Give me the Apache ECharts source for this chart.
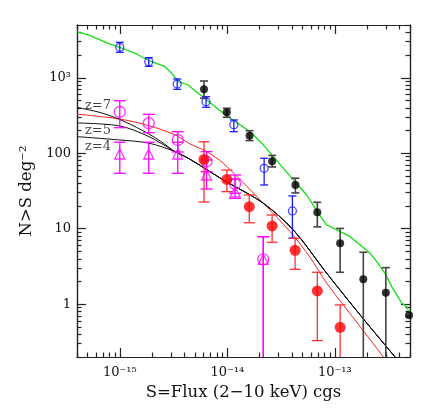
<!DOCTYPE html>
<html>
<head>
<meta charset="utf-8">
<script src="https://cdn.jsdelivr.net/npm/echarts@6/dist/echarts.min.js"></script>
<style>
  html, body { margin: 0; padding: 0; background: #fff; }
  #chart { width: 436px; height: 410px; }
</style>
</head>
<body>
<div id="chart"></div>
<script>
// axis ranges and ticks
var xMin = 4e-16, xMax = 5e-13
var yMin = 0.2, yMax = 5000
var xMajor = [1e-15, 1e-14, 1e-13]
var xMinor = [4e-16, 5e-16, 6e-16, 7e-16, 8e-16, 9e-16,
  2e-15, 3e-15, 4e-15, 5e-15, 6e-15, 7e-15, 8e-15, 9e-15,
  2e-14, 3e-14, 4e-14, 5e-14, 6e-14, 7e-14, 8e-14, 9e-14,
  2e-13, 3e-13, 4e-13, 5e-13]
var yMajor = [1, 10, 100, 1000]
var yMinor = [0.2, 0.3, 0.4, 0.5, 0.6, 0.7, 0.8, 0.9,
  2, 3, 4, 5, 6, 7, 8, 9, 20, 30, 40, 50, 60, 70, 80, 90,
  200, 300, 400, 500, 600, 700, 800, 900, 2000, 3000, 4000, 5000]

// green survey curve
var greenFlux = [4.0e-16, 5.1e-16, 7.8e-16, 1.0e-15, 1.39e-15, 1.87e-15, 2.64e-15, 3.04e-15, 3.5e-15, 4.34e-15, 5.0e-15,
  6.44e-15, 8.24e-15, 1.02e-14, 1.26e-14, 1.69e-14, 2.09e-14, 2.68e-14, 4.11e-14, 5.48e-14, 7.03e-14, 8.41e-14,
  1.04e-13, 1.39e-13, 1.72e-13, 2.13e-13, 2.45e-13, 2.93e-13, 3.38e-13, 3.77e-13, 4.2e-13, 4.67e-13, 5.0e-13]
var greenN = [4040, 3690, 2860, 2535, 2110, 1683, 1402, 1146, 887, 802, 675,
  508, 382, 305, 250, 184, 136, 90.2, 44.3, 28.0, 16.0, 11.2,
  9.64, 7.86, 6.10, 4.73, 3.66, 2.57, 1.71, 1.33, 1.03, 0.93, 0.72]

// blue open circles
var blueFlux = [1.0e-15, 1.86e-15, 3.42e-15, 6.34e-15, 1.15e-14, 2.2e-14, 4.03e-14]
var blueN = [2533, 1633, 827, 482, 239, 63.2, 17.2]
var blueLo = [2175, 1419, 703, 406, 193, 38.0, 7.48]
var blueHi = [2951, 1845, 964, 561, 276, 85.8, 27.2]

// black filled circles
var blackFlux = [6.07e-15, 9.9e-15, 1.61e-14, 2.61e-14, 4.3e-14, 6.87e-14, 1.12e-13, 1.84e-13, 2.98e-13, 4.9e-13]
var blackN = [703, 349, 171, 78.3, 38.0, 16.5, 6.43, 2.14, 1.42, 0.714]
var blackLo = [535, 300, 147, 65.8, 29.8, 10.6, 2.65, 0.1, 0.1, null]
var blackHi = [906, 394, 199, 93.5, 46.7, 22.4, 10.1, 4.88, 3.05, null]

// red filled circles
var redFlux = [6.07e-15, 9.9e-15, 1.6e-14, 2.61e-14, 4.27e-14, 6.87e-14, 1.12e-13]
var redN = [82.7, 45.0, 19.6, 10.9, 5.19, 1.50, 0.495]
var redLo = [22.6, 31.0, 12.0, 6.62, 2.90, 0.33, 0.1]
var redHi = [142, 60.0, 28.0, 15.2, 7.48, 2.65, 0.98]

// magenta open circles and triangles
var magCircFlux = [1.0e-15, 1.86e-15, 3.46e-15, 6.41e-15, 1.18e-14, 2.16e-14]
var magCircN = [352, 250, 150, 77.8, 39.2, 3.94]
var magCircLo = [218, 187, 104, 57, 29.5, 0.1]
var magCircHi = [497, 328, 193, 105, 51.5, 7.85]
var magTriFlux = [1.0e-15, 1.86e-15, 3.46e-15, 6.41e-15, 1.18e-14, 2.16e-14]
var magTriN = [97.8, 97.8, 97.8, 51.5, 30.7, 3.94]
var magTriLo = [54.3, 54.3, 54.3, 33.6, 25.3, 0.1]
var magTriHi = [140, 140, 140, 81.5, 45.2, 7.85]

// red model curve
var redCurveFlux = [4.0e-16, 1.0e-15, 1.87e-15, 3.27e-15, 4.5e-15, 6.44e-15, 9.18e-15, 2.15e-14, 3.83e-14, 5.87e-14, 8.41e-14, 1.72e-13, 2.83e-13, 3.1e-13]
var redCurveN = [330, 284, 232, 175, 133, 105, 73.6, 21.9, 9.15, 4.2, 1.90, 0.505, 0.20, 0.17]

// black model curves z=7,5,4 (shared bright end)
var z7Flux = [4.0e-16, 6.55e-16, 1.0e-15, 1.6e-15, 2.37e-15]
var z7N = [405, 347, 280, 203, 146]
var z5Flux = [4.0e-16, 1.0e-15, 1.87e-15]
var z5N = [252, 230, 166]
var z4Flux = [4.0e-16, 1.0e-15, 1.87e-15]
var z4N = [166, 150, 136]
var tailFlux = [3.27e-15, 4.5e-15, 9.18e-15, 2.15e-14, 4.11e-14, 8.41e-14, 1.72e-13, 3.63e-13, 4.0e-13]
var tailN = [105, 83.2, 44.3, 21.9, 9.64, 2.57, 0.72, 0.20, 0.17]

var zLabelFlux = [4.75e-16, 4.75e-16, 4.75e-16]
var zLabelN = [427, 199, 122]
var zLabelText = ['z=7', 'z=5', 'z=4']

var FONT = 'DejaVu Serif'
var SUP = { '-': '\u207b', '0': '\u2070', '1': '\u00b9', '2': '\u00b2', '3': '\u00b3', '4': '\u2074', '5': '\u2075', '6': '\u2076', '7': '\u2077', '8': '\u2078', '9': '\u2079' }

function sup (s) {
  return String(s).split('').map(function (c) { return SUP[c] || c }).join('')
}

function pairs (xs, ys) {
  return xs.map(function (x, i) { return [x, ys[i]] })
}

function errData (xs, ys, lo, hi) {
  var out = []
  xs.forEach(function (x, i) {
    if (lo[i] != null) out.push([x, ys[i], lo[i], hi[i]])
  })
  return out
}

function errorBars (data, color, width, capHalf) {
  return {
    type: 'custom',
    data: data,
    encode: { x: 0, y: 1 },
    z: 3,
    silent: true,
    renderItem: function (params, api) {
      var cs = params.coordSys
      var x = api.value(0)
      var top = api.coord([x, api.value(3)])
      var bot = api.coord([x, api.value(2)])
      var y1 = Math.max(top[1], cs.y)
      var y2 = Math.min(bot[1], cs.y + cs.height)
      var st = { stroke: color, lineWidth: width }
      var kids = [{ type: 'line', shape: { x1: top[0], y1: y1, x2: top[0], y2: y2 }, style: st }]
      if (top[1] >= cs.y) kids.push({ type: 'line', shape: { x1: top[0] - capHalf, y1: top[1], x2: top[0] + capHalf, y2: top[1] }, style: st })
      if (bot[1] <= cs.y + cs.height) kids.push({ type: 'line', shape: { x1: bot[0] - capHalf, y1: bot[1], x2: bot[0] + capHalf, y2: bot[1] }, style: st })
      return { type: 'group', children: kids }
    }
  }
}

function line (data, color, width, smooth) {
  return {
    type: 'line', data: data, symbol: 'none', smooth: smooth, z: 2, clip: true,
    lineStyle: { color: color, width: width }
  }
}

function marks (data, symbol, size, color, filled) {
  return {
    type: 'scatter', data: data, symbol: symbol, symbolSize: size, z: 4,
    itemStyle: filled
      ? { color: color, borderColor: color, borderWidth: 0 }
      : { color: 'rgba(0,0,0,0)', borderColor: color, borderWidth: 1.3 }
  }
}

var axisColor = '#222'

function xAxis (pos, ticks, len, labels) {
  return {
    type: 'log', logBase: 10, position: pos, min: xMin, max: xMax,
    axisLine: { show: true, onZero: false, lineStyle: { color: axisColor, width: 1.2 } },
    axisTick: { show: true, inside: true, length: len, customValues: ticks, lineStyle: { color: axisColor, width: 1.2 } },
    axisLabel: labels ? {
      show: true, customValues: ticks, margin: 9, color: '#111', fontFamily: FONT, fontSize: 13,
      formatter: function (v) { return '10' + sup(Math.round(Math.log10(v))) }
    } : { show: false },
    splitLine: { show: false },
    name: labels ? 'S=Flux (2\u221210 keV) cgs' : '',
    nameLocation: 'middle', nameGap: 27,
    nameTextStyle: { color: '#111', fontFamily: FONT, fontSize: 16.5 }
  }
}

function yAxis (pos, ticks, len, labels) {
  return {
    type: 'log', logBase: 10, position: pos, min: yMin, max: yMax,
    axisLine: { show: true, onZero: false, lineStyle: { color: axisColor, width: 1.2 } },
    axisTick: { show: true, inside: true, length: len, customValues: ticks, lineStyle: { color: axisColor, width: 1.2 } },
    axisLabel: labels ? {
      show: true, customValues: ticks, margin: 6, color: '#111', fontFamily: FONT, fontSize: 13,
      formatter: function (v) { return v >= 1000 ? '10' + sup(Math.round(Math.log10(v))) : String(v) }
    } : { show: false },
    splitLine: { show: false },
    name: labels ? 'N>S deg' + sup(-2) : '',
    nameLocation: 'middle', nameGap: 41, nameRotate: 90,
    nameTextStyle: { color: '#111', fontFamily: FONT, fontSize: 16.5 }
  }
}

var zLabels = zLabelFlux.map(function (x, i) { return [x, zLabelN[i], zLabelText[i]] })

var option = {
  animation: false,
  backgroundColor: '#fff',
  grid: { left: 77, right: 26, top: 25, bottom: 53, containLabel: false, outerBoundsMode: 'none' },
  xAxis: [
    xAxis('bottom', xMajor, 9, true),
    xAxis('bottom', xMinor, 4.5, false),
    xAxis('top', xMajor, 9, false),
    xAxis('top', xMinor, 4.5, false)
  ],
  yAxis: [
    yAxis('left', yMajor, 9, true),
    yAxis('left', yMinor, 4.5, false),
    yAxis('right', yMajor, 9, false),
    yAxis('right', yMinor, 4.5, false)
  ],
  series: [
    line(pairs(greenFlux, greenN), '#11e011', 1.3, false),
    line(pairs(redCurveFlux, redCurveN), '#ff2020', 1, 0.3),
    line(pairs(z7Flux.concat(tailFlux), z7N.concat(tailN)), '#111', 1, 0.3),
    line(pairs(z5Flux.concat(tailFlux), z5N.concat(tailN)), '#111', 1, 0.3),
    line(pairs(z4Flux.concat(tailFlux), z4N.concat(tailN)), '#111', 1, 0.3),
    errorBars(errData(magTriFlux, magTriN, magTriLo, magTriHi), '#ff00ff', 1.3, 6),
    errorBars(errData(magCircFlux, magCircN, magCircLo, magCircHi), '#ff00ff', 1.3, 6),
    errorBars(errData(blueFlux, blueN, blueLo, blueHi), '#1a1aff', 1.3, 4),
    errorBars(errData(blackFlux, blackN, blackLo, blackHi), '#444', 1.6, 4),
    errorBars(errData(redFlux, redN, redLo, redHi), '#ff3030', 1.3, 5.5),
    marks(pairs(magTriFlux, magTriN), 'triangle', 10, '#ff00ff', false),
    marks(pairs(magCircFlux, magCircN), 'circle', 11, '#ff00ff', false),
    marks(pairs(blueFlux, blueN), 'circle', 8, '#1a1aff', false),
    marks(pairs(blackFlux, blackN), 'circle', 8, '#000', true),
    marks(pairs(redFlux, redN), 'circle', 11, '#ff0000', true),
    {
      type: 'scatter', data: zLabels, symbolSize: 0, z: 5, silent: true,
      label: {
        show: true, position: 'right', distance: 0, color: '#111', fontFamily: FONT, fontSize: 13,
        formatter: function (p) { return p.data[2] }
      }
    }
  ]
}

var myChart = echarts.init(document.getElementById('chart'), null, { renderer: 'canvas' })
myChart.setOption(option)
</script>
</body>
</html>
